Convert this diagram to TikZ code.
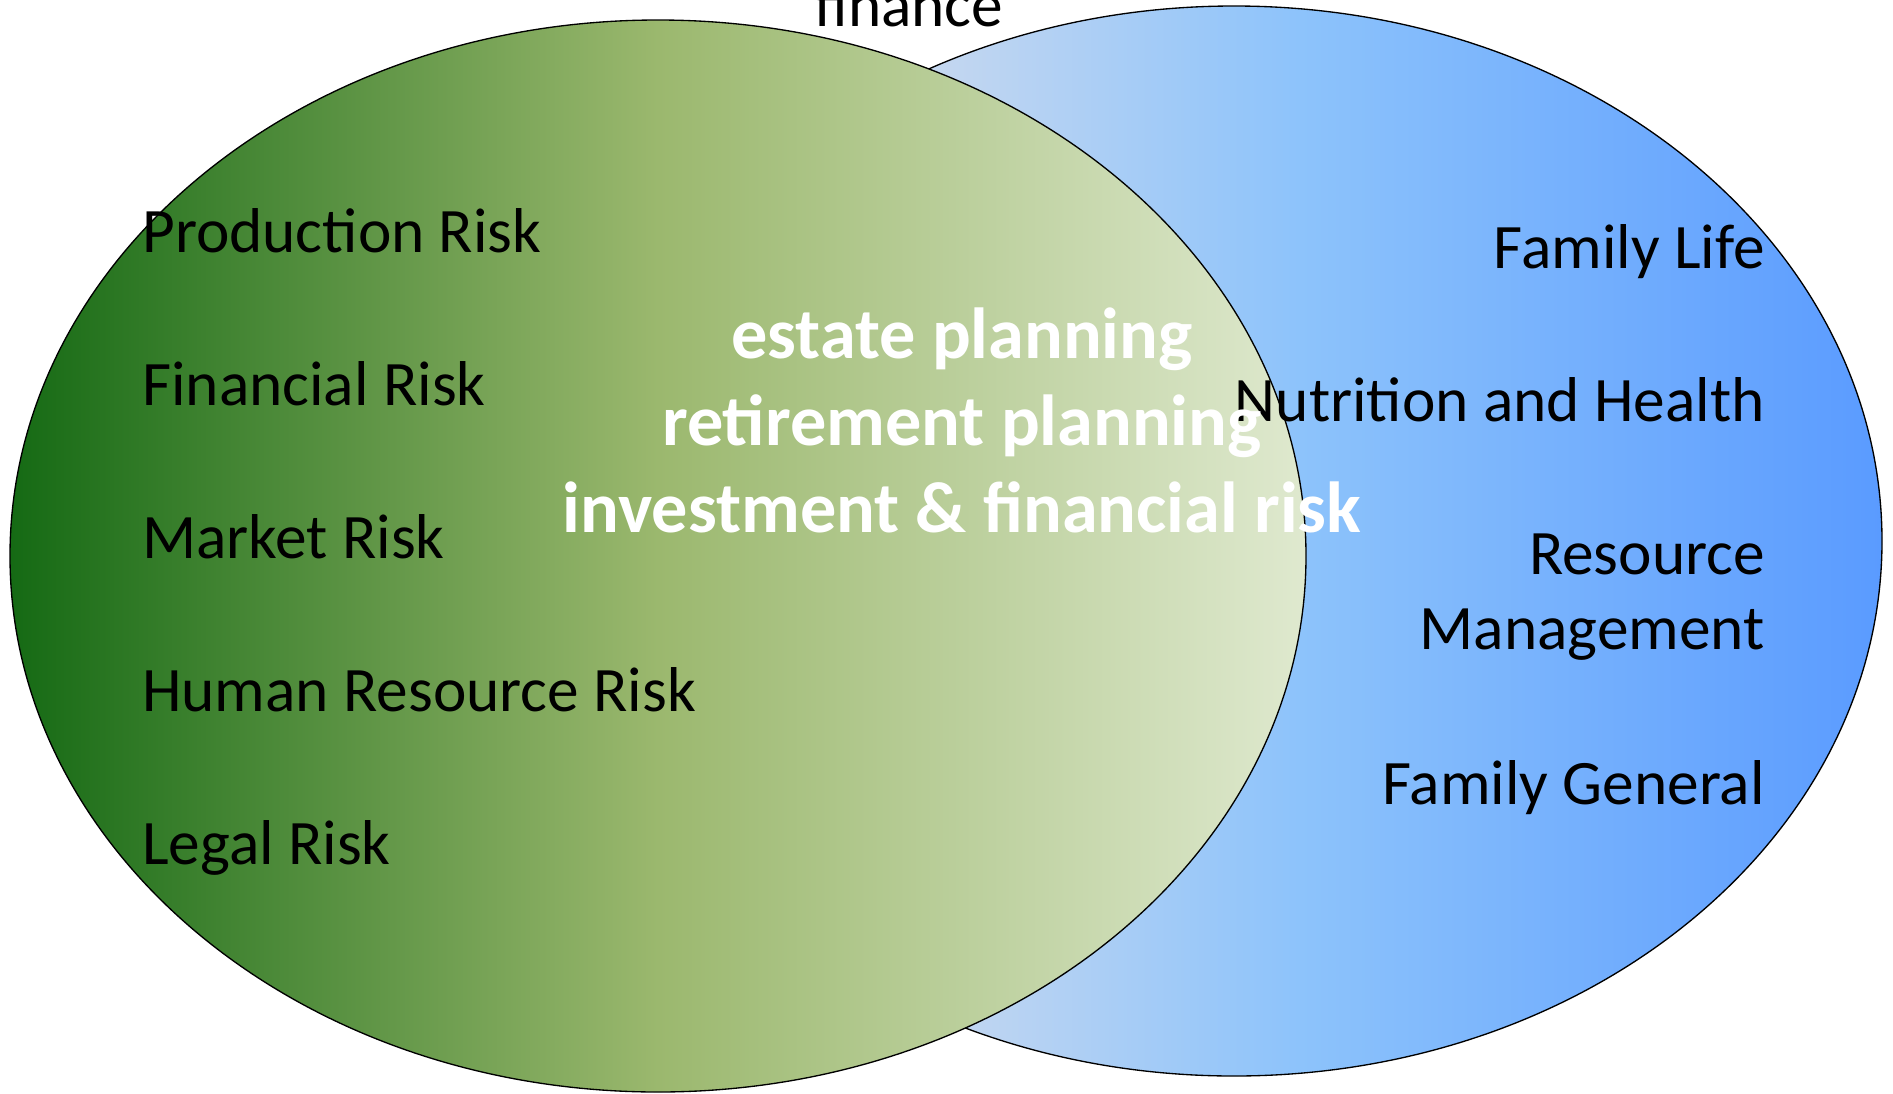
\documentclass[tikz,border=0pt]{standalone}
\usepackage{fontspec}
\setmainfont{Carlito}
\usetikzlibrary{shadings}
\definecolor{gA}{HTML}{156A14}
\definecolor{gB}{HTML}{9BB86E}
\definecolor{gC}{HTML}{DFE9CF}
\definecolor{bA}{HTML}{D6E0EF}
\definecolor{bB}{HTML}{C4D7F0}
\definecolor{bC}{HTML}{8DC3FB}
\definecolor{bD}{HTML}{5A9BFF}
\pgfdeclarehorizontalshading{greenshade}{100bp}{color(0bp)=(gA); color(25bp)=(gA); color(50bp)=(gB); color(75bp)=(gC); color(100bp)=(gC)}
\pgfdeclarehorizontalshading{blueshade}{100bp}{color(0bp)=(bA); color(25bp)=(bA); color(38.5bp)=(bB); color(52.5bp)=(bC); color(75bp)=(bD); color(100bp)=(bD)}
\tikzset{
  lbl/.style={inner sep=0pt, text=black, font=\fontsize{47.5}{56}\selectfont},
  mid/.style={inner sep=0pt, text=white, font=\fontsize{54.2}{65}\selectfont\bfseries},
  venn/.style={draw=black, line width=1pt}
}
\begin{document}
\begin{tikzpicture}[x=0.75pt,y=-0.75pt]
\useasboundingbox (0,0) rectangle (1893,1093);
\shadedraw[venn, shading=blueshade] (1234,541) ellipse [x radius=648, y radius=535];
\shadedraw[venn, shading=greenshade] (658,556) ellipse [x radius=648, y radius=536];
\node[lbl, anchor=base] (finance) at (909,26) {finance};
\node[lbl, anchor=base west] (prod) at (142,252) {Production Risk};
\node[lbl, anchor=base west] (fin) at (142,405) {Financial Risk};
\node[lbl, anchor=base west] (mkt) at (142,558) {Market Risk};
\node[lbl, anchor=base west] (hr) at (142,711) {Human Resource Risk};
\node[lbl, anchor=base west] (legal) at (142,864) {Legal Risk};
\node[lbl, anchor=base east] (life) at (1765,268) {Family Life};
\node[lbl, anchor=base east] (nutr) at (1765,421) {Nutrition and Health};
\node[lbl, anchor=base east, align=right] (res) at (1765,649) {Resource\\Management};
\node[lbl, anchor=base east] (gen) at (1765,804) {Family General};
\node[mid, anchor=base] (estate) at (962,358) {estate planning};
\node[mid, anchor=base] (retire) at (962,445) {retirement planning};
\node[mid, anchor=base] (invest) at (962,532) {investment \& financial risk};
\end{tikzpicture}
\end{document}
